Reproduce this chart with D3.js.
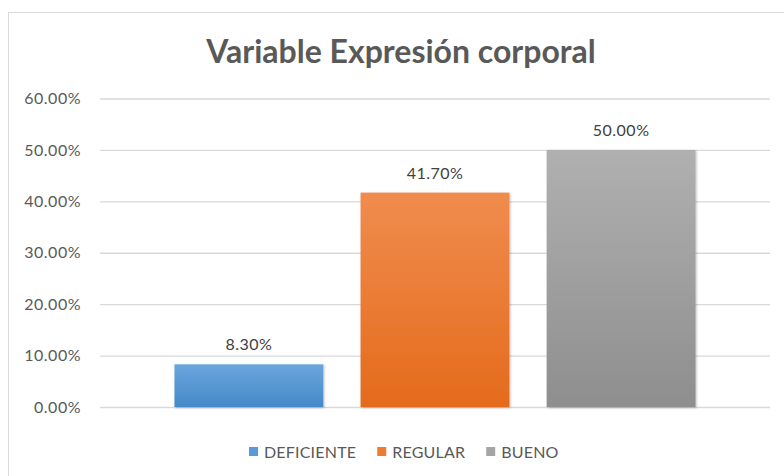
<!DOCTYPE html>
<html><head><meta charset="utf-8">
<script src="https://cdn.jsdelivr.net/npm/d3@7"></script>
<style>body{margin:0;background:#fff}svg{display:block}</style>
</head><body>
<script>
const categories = ["DEFICIENTE", "REGULAR", "BUENO"];
const values = [0.083, 0.417, 0.50];
const yTicks = [0, 0.1, 0.2, 0.3, 0.4, 0.5, 0.6];
const title = "Variable Expresión corporal";
const colorsTop = ["#6ba6de", "#f08c4e", "#b0b0b0"];
const colorsBot = ["#4589c9", "#e46b1c", "#8e8e8e"];
const legendColors = ["#5b9bd5", "#ed7d31", "#a5a5a5"];

const W = 784, H = 476;
const font = "Lato, 'Open Sans', sans-serif";
const svg = d3.select("body").append("svg").attr("width", W).attr("height", H);

const defs = svg.append("defs");
categories.forEach((c, i) => {
  const g = defs.append("linearGradient").attr("id", "g" + i).attr("x1", 0).attr("y1", 0).attr("x2", 0).attr("y2", 1);
  g.append("stop").attr("offset", "0%").attr("stop-color", colorsTop[i]);
  g.append("stop").attr("offset", "100%").attr("stop-color", colorsBot[i]);
});
const f = defs.append("filter").attr("id", "sh").attr("x", "-10%").attr("y", "-10%").attr("width", "120%").attr("height", "120%");
f.append("feDropShadow").attr("dx", 1).attr("dy", 1).attr("stdDeviation", 1.2).attr("flood-color", "#000").attr("flood-opacity", 0.25);

// chart border
svg.append("rect").attr("x", 8.5).attr("y", 12.5).attr("width", W).attr("height", H)
  .attr("fill", "#fff").attr("stroke", "#d9d9d9");

svg.append("text").attr("x", 401).attr("y", 63).attr("text-anchor", "middle")
  .attr("font-family", font).attr("font-weight", "bold").attr("font-size", 32)
  .attr("fill", "#595959").text(title);

const x = d3.scaleBand().domain(categories).range([100, 770]).paddingInner(0.2).paddingOuter(0.4);
const y = d3.scaleLinear().domain([0, 0.6]).range([407, 98.5]);

const yAxis = svg.append("g").attr("transform", "translate(100,0)")
  .call(d3.axisLeft(y).tickValues(yTicks).tickFormat(d3.format(".2%")).tickSize(-670).tickPadding(19));
yAxis.select(".domain").remove();
yAxis.selectAll(".tick line").attr("stroke", "#d9d9d9").attr("stroke-width", 1.3);
yAxis.selectAll(".tick text").attr("font-family", font).attr("font-size", 16).attr("letter-spacing", 0.5).attr("fill", "#595959");

svg.append("g").selectAll("rect").data(categories).join("rect")
  .attr("x", d => x(d)).attr("width", x.bandwidth())
  .attr("y", (d, i) => y(values[i])).attr("height", (d, i) => y(0) - y(values[i]))
  .attr("fill", (d, i) => `url(#g${i})`).attr("filter", "url(#sh)");

svg.append("g").selectAll("text").data(categories).join("text")
  .attr("x", d => x(d) + x.bandwidth() / 2).attr("y", (d, i) => y(values[i]) - 14)
  .attr("text-anchor", "middle").attr("font-family", font).attr("font-size", 16).attr("letter-spacing", 0.5).attr("fill", "#404040")
  .text((d, i) => d3.format(".2%")(values[i]));

// legend
const lg = svg.append("g");
let cx = 249;
categories.forEach((c, i) => {
  const g = lg.append("g").attr("transform", `translate(${cx},0)`);
  g.append("rect").attr("x", 0).attr("y", 447).attr("width", 9).attr("height", 9).attr("fill", legendColors[i]);
  const t = g.append("text").attr("x", 15).attr("y", 458).attr("font-family", font).attr("font-size", 16)
    .attr("letter-spacing", 0.2).attr("fill", "#595959").text(c);
  cx += 15 + t.node().getComputedTextLength() + 21;
});
</script>
</body></html>
